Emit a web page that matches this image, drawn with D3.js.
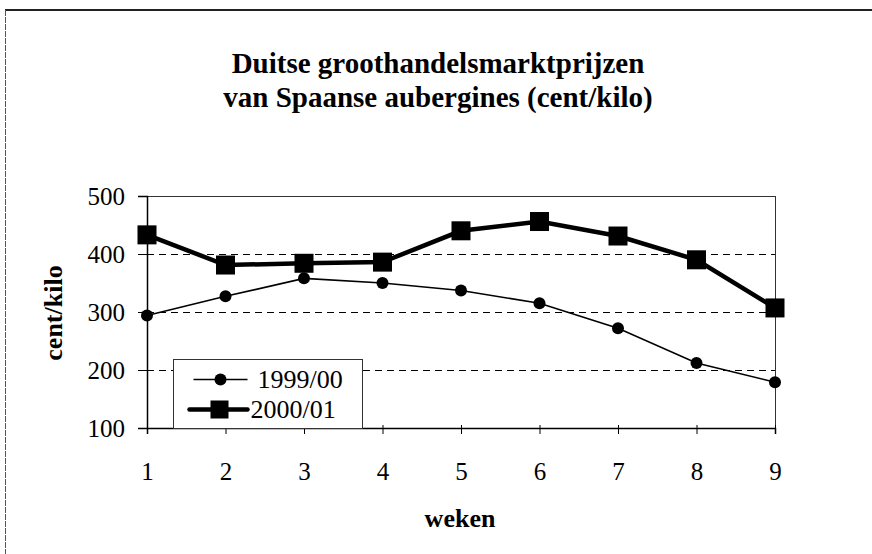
<!DOCTYPE html>
<html>
<head>
    <title>aubergines</title>
    <script src="https://d3js.org/d3.v7.min.js"></script>
    <style>
        body { margin: 0; background: #fff; }
        text { font-family: "Liberation Serif", "Times New Roman", serif; fill: #000; }
    </style>
</head>
<body>
    <script>
var w = 872, h = 554;

// data
var weken = [1, 2, 3, 4, 5, 6, 7, 8, 9];
var prijs9900 = [294, 327, 358, 350, 337, 315, 272, 212, 179];
var prijs0001 = [433, 381, 384, 386, 440, 456, 431, 390, 307];
var yTicks = [100, 200, 300, 400, 500];
var gridTicks = [200, 300, 400];
var titel = ["Duitse groothandelsmarktprijzen", "van Spaanse aubergines (cent/kilo)"];

var margin = {left: 147, right: 97, top: 196, bottom: 126};

var svg = d3.select("body").append("svg")
    .attr("width", w)
    .attr("height", h);

// outer chart frame (only top and left visible)
svg.append("line").attr("x1", 5).attr("x2", w).attr("y1", 10).attr("y2", 10)
    .attr("stroke", "#222").attr("stroke-width", 2);
svg.append("line").attr("x1", 5.5).attr("x2", 5.5).attr("y1", 10).attr("y2", h)
    .attr("stroke", "#555").attr("stroke-width", 1).attr("stroke-dasharray", "6,1");

var x = d3.scaleLinear().domain([1, 9]).range([margin.left, w - margin.right]);
var y = d3.scaleLinear().domain([100, 500]).range([h - margin.bottom, margin.top]);

// titel
svg.selectAll(".titel").data(titel).enter().append("text")
    .attr("class", "titel")
    .attr("x", 438)
    .attr("y", function(d, i) { return 73 + i * 34; })
    .attr("text-anchor", "middle")
    .style("font-size", "29px")
    .style("font-weight", "bold")
    .text(function(d) { return d; });

// gridlijnen
svg.selectAll(".grid").data(gridTicks).enter().append("line")
    .attr("x1", x(1)).attr("x2", x(9))
    .attr("y1", function(d) { return Math.round(y(d)) + 0.5; })
    .attr("y2", function(d) { return Math.round(y(d)) + 0.5; })
    .attr("stroke", "#000").attr("stroke-width", 1)
    .attr("stroke-dasharray", "7,5");

// top and right border of plot area
svg.append("line").attr("x1", x(1)).attr("x2", x(9)).attr("y1", y(500) + 0.5).attr("y2", y(500) + 0.5)
    .attr("stroke", "#333").attr("stroke-width", 1);
svg.append("line").attr("x1", x(9) + 0.5).attr("x2", x(9) + 0.5).attr("y1", y(500)).attr("y2", y(100))
    .attr("stroke", "#333").attr("stroke-width", 1);

// assen
var yAxis = svg.append("g")
    .attr("transform", "translate(" + x(1) + ",0)")
    .call(d3.axisLeft(y).tickValues(yTicks).tickSize(9).tickPadding(13));
var xAxis = svg.append("g")
    .attr("transform", "translate(0," + y(100) + ")")
    .call(d3.axisBottom(x).tickValues(weken).tickSize(6).tickPadding(28).tickFormat(d3.format("d")));
[xAxis, yAxis].forEach(function(a) {
    a.attr("font-size", null).attr("font-family", null);
    a.select(".domain").attr("stroke", "#000").attr("stroke-width", 1.5);
    a.selectAll(".tick line").attr("stroke", "#000");
    a.selectAll("text").style("font-size", "25px");
});
xAxis.selectAll(".tick line").attr("y1", -3);
yAxis.selectAll(".tick line").attr("x1", 0).attr("x2", -9);

svg.append("text")
    .attr("transform", "translate(62,313) rotate(-90)")
    .attr("text-anchor", "middle")
    .style("font-size", "26px").style("font-weight", "bold")
    .text("cent/kilo");
svg.append("text")
    .attr("x", 460).attr("y", 527)
    .attr("text-anchor", "middle")
    .style("font-size", "26px").style("font-weight", "bold")
    .text("weken");

// lijnen
var line = d3.line()
    .x(function(d, i) { return x(weken[i]); })
    .y(function(d) { return y(d); });

svg.append("path").datum(prijs9900)
    .attr("d", line).attr("fill", "none")
    .attr("stroke", "#000").attr("stroke-width", 1.6);
svg.selectAll(".c9900").data(prijs9900).enter().append("circle")
    .attr("class", "c9900")
    .attr("cx", function(d, i) { return x(weken[i]); })
    .attr("cy", function(d) { return y(d); })
    .attr("r", 6).attr("fill", "#000");

svg.append("path").datum(prijs0001)
    .attr("d", line).attr("fill", "none")
    .attr("stroke", "#000").attr("stroke-width", 4.5);
svg.selectAll(".s0001").data(prijs0001).enter().append("rect")
    .attr("class", "s0001")
    .attr("x", function(d, i) { return x(weken[i]) - 9.5; })
    .attr("y", function(d) { return y(d) - 9.5; })
    .attr("width", 19).attr("height", 19).attr("fill", "#000");

// legenda
var leg = svg.append("g").attr("transform", "translate(173.5,359.5)");
leg.append("rect").attr("width", 189).attr("height", 69)
    .attr("fill", "#fff").attr("stroke", "#333").attr("stroke-width", 1);
leg.append("line").attr("x1", 20).attr("x2", 74).attr("y1", 20).attr("y2", 20)
    .attr("stroke", "#000").attr("stroke-width", 1.6);
leg.append("circle").attr("cx", 47).attr("cy", 20).attr("r", 6).attr("fill", "#000");
leg.append("text").attr("x", 84).attr("y", 28).style("font-size", "26px").text("1999/00");
leg.append("line").attr("x1", 16).attr("x2", 74).attr("y1", 50).attr("y2", 50)
    .attr("stroke", "#000").attr("stroke-width", 4.5).attr("stroke-linecap", "round");
leg.append("rect").attr("x", 37).attr("y", 41).attr("width", 18).attr("height", 18).attr("fill", "#000");
leg.append("text").attr("x", 77).attr("y", 58).style("font-size", "26px").text("2000/01");
    </script>
</body>
</html>
